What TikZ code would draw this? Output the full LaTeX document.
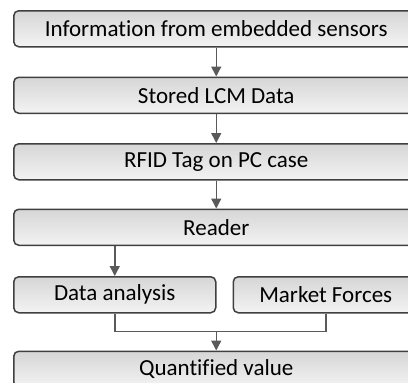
\documentclass[tikz,border=0pt]{standalone}
\usepackage{fontspec}
\setmainfont{Carlito}[Ligatures={NoCommon}]
\usetikzlibrary{positioning,arrows.meta,calc}
\definecolor{boxline}{HTML}{404040}
\definecolor{flowline}{HTML}{5A5A5A}
\definecolor{shadetop}{HTML}{D6D6D6}
\definecolor{shadebot}{HTML}{F3F3F3}
\tikzset{
  stage/.style={draw=boxline, line width=1.5pt, rounded corners=5pt, top color=shadetop, bottom color=shadebot, minimum height=36pt, inner sep=0pt, font=\fontsize{23}{26}\selectfont},
  wide/.style={stage, minimum width=405pt},
  flow/.style={draw=flowline, line width=1.5pt, -{Triangle[width=10pt,length=10pt]}},
  link/.style={draw=flowline, line width=1.5pt}
}
\begin{document}
\begin{tikzpicture}[x=1pt, y=1pt, node distance=29pt]
    \useasboundingbox (0,0) rectangle (408,-383);
    \clip (0,0) rectangle (408,-383);
    % main chain
    \node[wide, anchor=north west] (info) at (13,-10) {Information from embedded sensors};
    \node[wide, below=of info] (lcm) {Stored LCM Data};
    \node[wide, below=of lcm] (rfid) {RFID Tag on PC case};
    \node[wide, below=28pt of rfid] (reader) {Reader};
    % the two inputs
    \node[stage, minimum width=202pt, below=30pt of reader.south west, anchor=north west] (analysis) {Data analysis};
    \node[stage, minimum width=185pt, right=16pt of analysis] (market) {Market Forces};
    \node[wide, below=37pt of analysis.south west, anchor=north west] (value) {Quantified value};
    \coordinate (merge) at ($(value.north)+(0,19)$);
    % connectors
    \draw[flow] (info) -- (lcm);
    \draw[flow] (lcm) -- (rfid);
    \draw[flow] (rfid) -- (reader);
    \draw[flow] (reader.south -| analysis.north) -- (analysis.north);
    \draw[link] (analysis.south) |- (merge) -| (market.south);
    \draw[flow] (merge) -- (value.north);
\end{tikzpicture}
\end{document}
